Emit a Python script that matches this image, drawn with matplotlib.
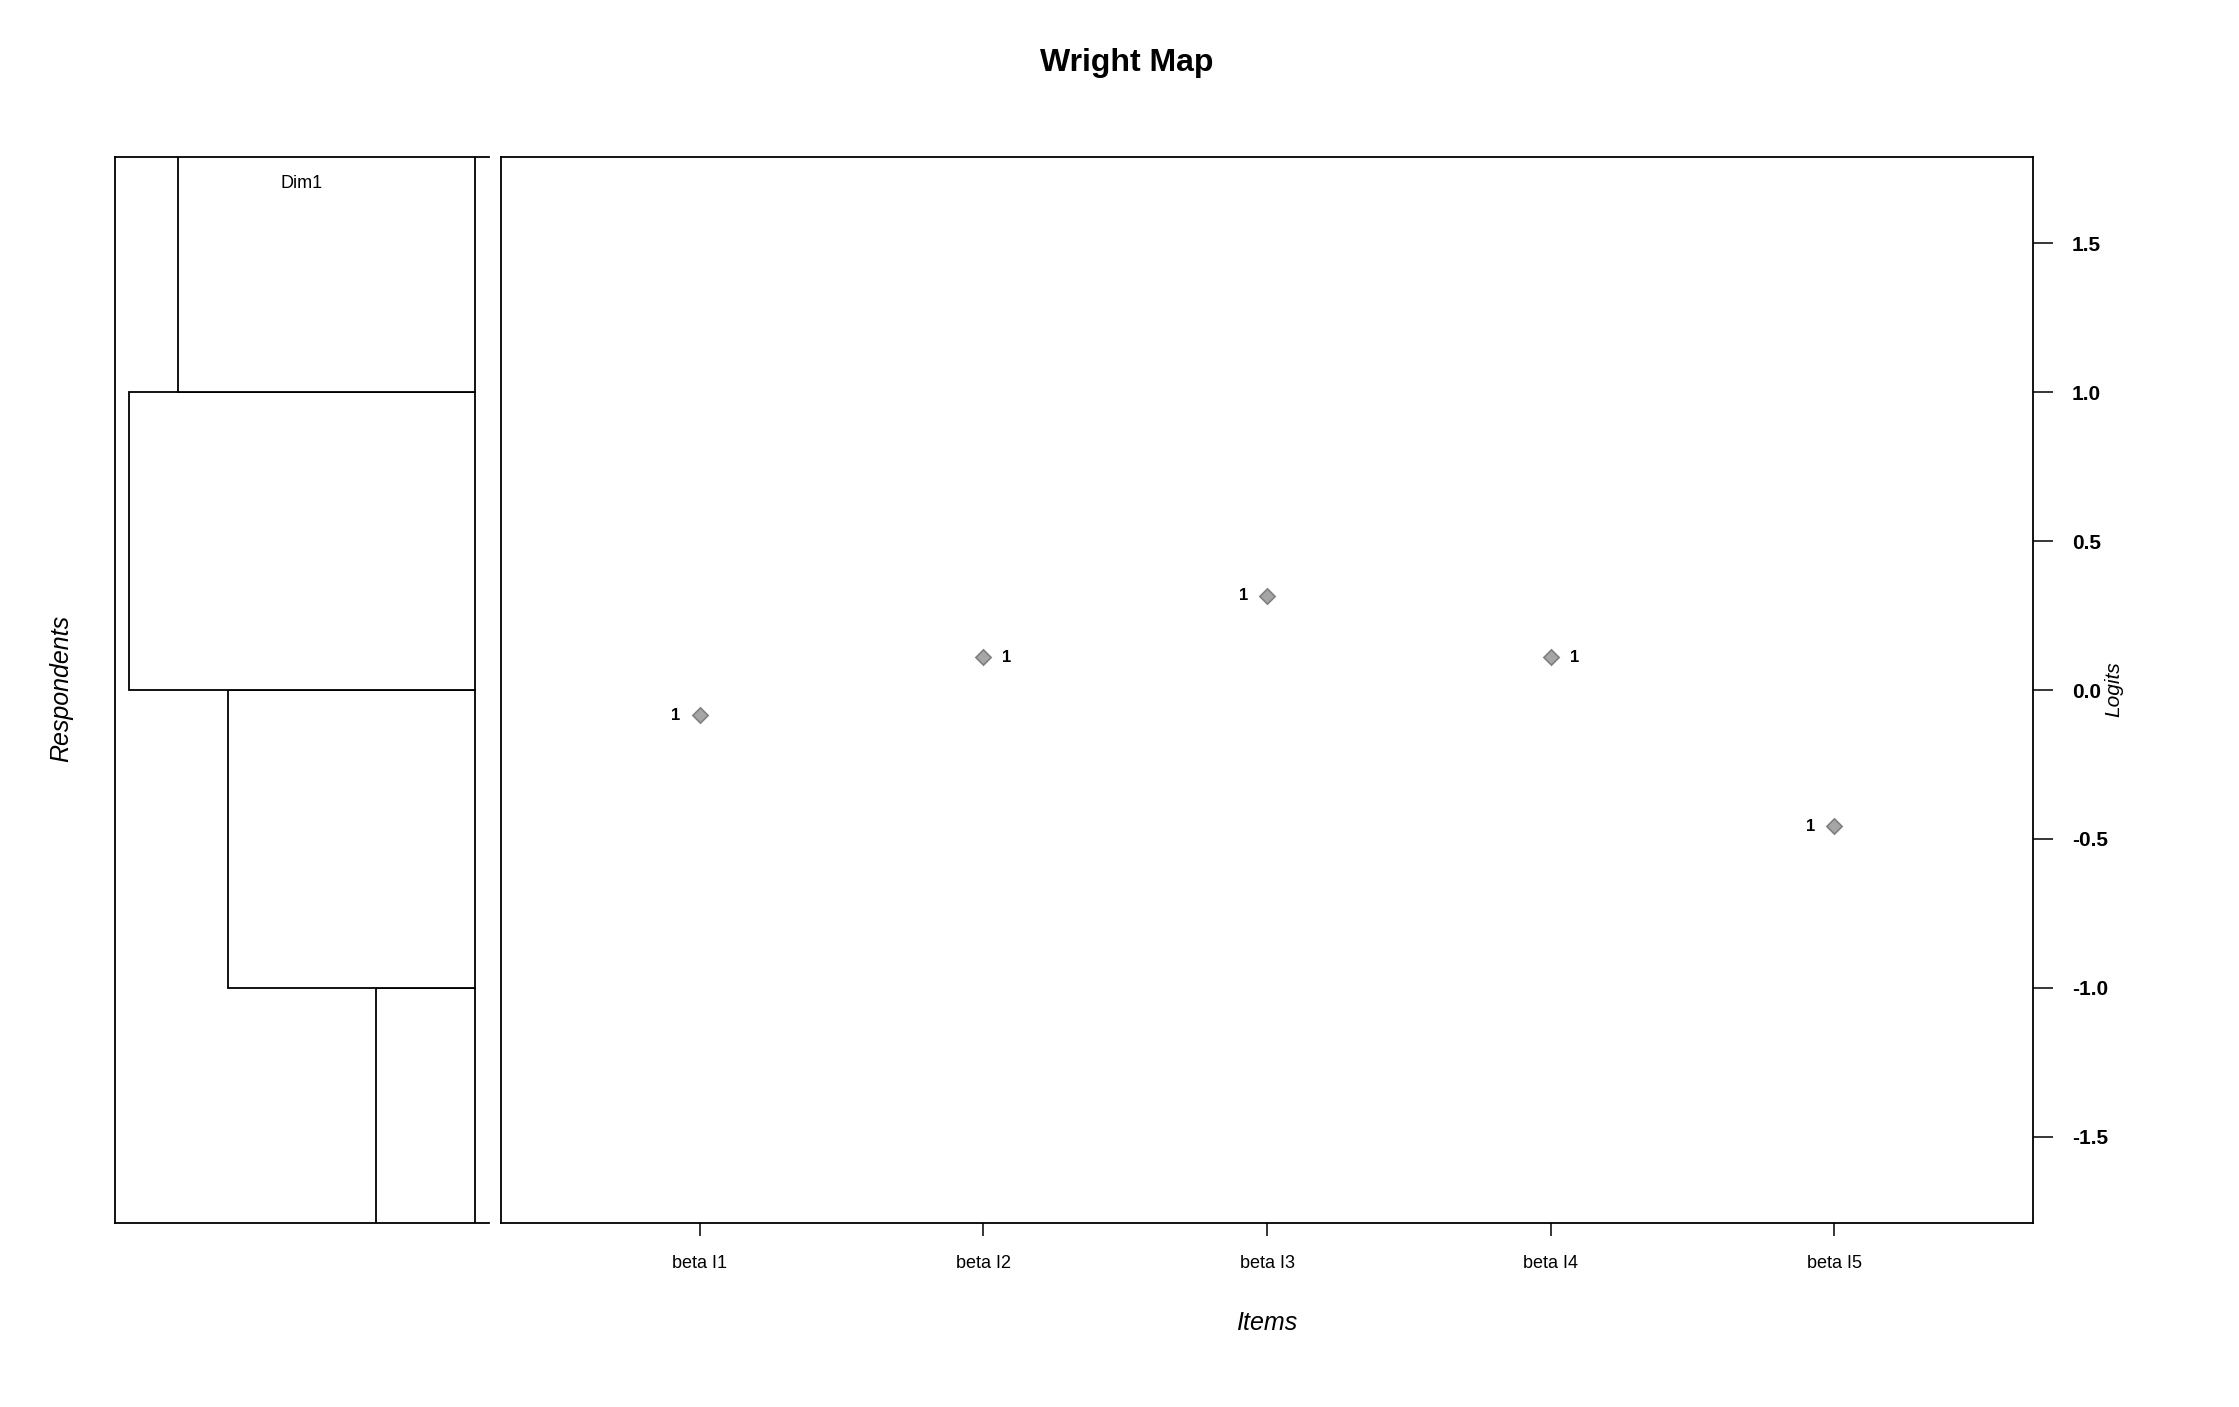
import matplotlib
matplotlib.use("Agg")
import matplotlib.pyplot as plt
import numpy as np

plt.rcParams['font.family'] = ['Liberation Sans', 'DejaVu Sans']

# ---- data ----
person_bin_low = [-2, -1, 0, 1]          # histogram bins (logits), width 1
person_counts = [2, 5, 7, 6]
item_names = ['beta I1', 'beta I2', 'beta I3', 'beta I4', 'beta I5']
item_logits = [-0.085, 0.11, 0.317, 0.11, -0.457]
thr_labels = ['1', '1', '1', '1', '1']
y_ticks = [-1.5, -1.0, -0.5, 0.0, 0.5, 1.0, 1.5]
y_lim = (-1.789, 1.789)

W, H = 2239, 1407
fig = plt.figure(figsize=(W / 100, H / 100), dpi=100)

def px_rect(x0, y0, x1, y1):
    return [x0 / W, 1 - y1 / H, (x1 - x0) / W, (y1 - y0) / H]

lw = 1.3

# ---- left panel: respondents histogram ----
axl = fig.add_axes(px_rect(115, 157.3, 489, 1222.7))
axl.barh([b + 0.5 for b in person_bin_low], person_counts, height=1.0, left=0,
         color='white', edgecolor='black', linewidth=lw)
mx = max(person_counts)
axl.set_xlim(mx * 1.04, -mx * 0.04)
axl.set_ylim(*y_lim)
axl.set_xticks([])
axl.set_yticks([])
for s in ['left', 'top', 'bottom']:
    axl.spines[s].set_linewidth(lw)
axl.spines['right'].set_visible(False)
axl.text(0.5, 0.975, 'Dim1', transform=axl.transAxes, ha='center', va='center',
         fontsize=13)

# ---- main panel: items ----
ax = fig.add_axes(px_rect(501, 157.3, 2033, 1222.7))
xpos = np.arange(1, len(item_names) + 1)
ax.plot(xpos, item_logits, linestyle='none', marker=(4, 0, 0), markersize=11,
        markerfacecolor='#a6a6a6', markeredgecolor='#808080', markeredgewidth=1.2)
for i, (x, y, lab) in enumerate(zip(xpos, item_logits, thr_labels)):
    side = -1 if i % 2 == 0 else 1
    ax.annotate(lab, (x, y), xytext=(side * 17, 0), textcoords='offset points',
                ha='center', va='center', fontsize=12, fontweight='bold')
ax.set_xlim(0.3, len(item_names) + 0.7)
ax.set_ylim(*y_lim)
ax.set_xticks(xpos)
ax.set_xticklabels(item_names, fontsize=13)
ax.tick_params(axis='x', direction='out', length=9.5, width=1.1, pad=14)
ax.yaxis.tick_right()
ax.set_yticks(y_ticks)
ax.set_yticklabels([f'{v:.1f}' for v in y_ticks], fontsize=15, fontweight='bold')
ax.tick_params(axis='y', direction='out', length=14.4, width=1.1, pad=13.5)
for s in ax.spines.values():
    s.set_linewidth(lw)

# ---- texts ----
fig.text(1127 / W, 1 - 63 / H, 'Wright Map', ha='center', va='center',
         fontsize=23, fontweight='bold')
fig.text(1267 / W, 1 - 1322.7 / H, 'Items', ha='center', va='center',
         fontsize=18, style='italic')
fig.text(61.7 / W, 1 - 688 / H, 'Respondents', ha='center', va='center',
         fontsize=18, style='italic', rotation=90)
fig.text(2114 / W, 1 - 689 / H, 'Logits', ha='center', va='center',
         fontsize=15, style='italic', rotation=90)

fig.savefig('out.png', dpi=100, facecolor='white')
